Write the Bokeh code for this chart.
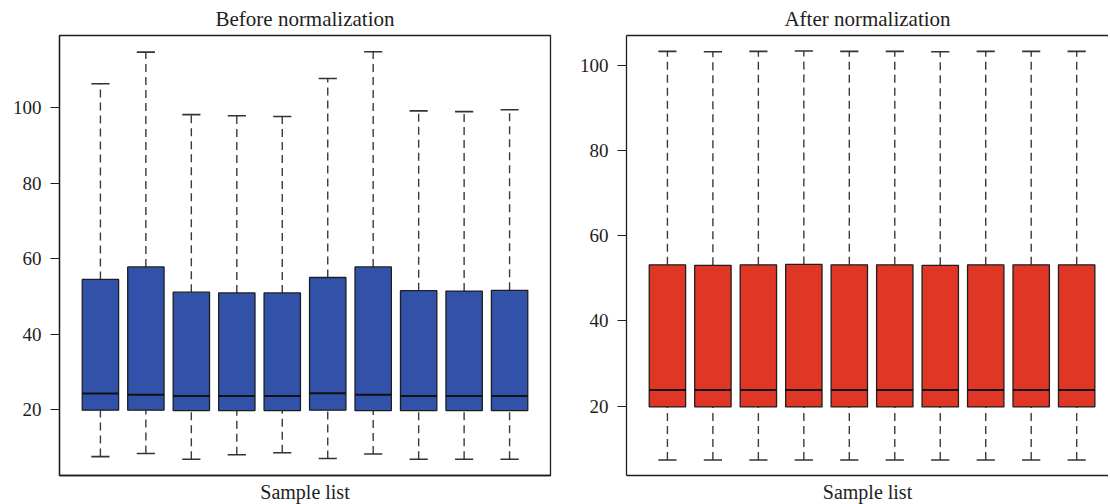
from bokeh.plotting import figure
from bokeh.layouts import row
from bokeh.models import ColumnDataSource, Range1d, FixedTicker, LinearAxis
from bokeh.transform import dodge
from bokeh.embed import file_html
from bokeh.resources import INLINE

# ---- data ----
samples = [1, 2, 3, 4, 5, 6, 7, 8, 9, 10]
y_ticks = [20, 40, 60, 80, 100]

before_upper = [106.4, 114.8, 98.2, 97.9, 97.7, 107.8, 114.9, 99.2, 99.0, 99.5]
before_q3 = [54.5, 57.8, 51.1, 50.9, 50.9, 55.0, 57.8, 51.5, 51.4, 51.6]
before_median = [24.2, 23.9, 23.6, 23.6, 23.6, 24.3, 23.9, 23.6, 23.6, 23.6]
before_q1 = [19.8, 19.8, 19.7, 19.7, 19.7, 19.8, 19.7, 19.7, 19.7, 19.7]
before_lower = [7.5, 8.3, 6.8, 8.0, 8.5, 7.0, 8.2, 6.8, 6.8, 6.8]

after_upper = [103.4, 103.3, 103.4, 103.5, 103.4, 103.4, 103.3, 103.4, 103.4, 103.4]
after_q3 = [53.2, 53.1, 53.2, 53.3, 53.2, 53.2, 53.1, 53.2, 53.2, 53.2]
after_median = [23.8, 23.8, 23.8, 23.8, 23.8, 23.8, 23.8, 23.8, 23.8, 23.8]
after_q1 = [19.8, 19.8, 19.8, 19.8, 19.8, 19.8, 19.8, 19.8, 19.8, 19.8]
after_lower = [7.3, 7.3, 7.3, 7.3, 7.3, 7.3, 7.3, 7.3, 7.3, 7.3]

FONT = "Liberation Serif"
INK = "#1e1e1e"


def bare_axis(ax):
    ax.ticker = FixedTicker(ticks=[])
    ax.major_tick_out = 0
    ax.major_tick_in = 0
    ax.minor_tick_out = 0
    ax.minor_tick_in = 0
    ax.major_label_standoff = 0
    ax.axis_line_color = INK
    ax.axis_line_width = 1.3


def make_panel(title, upper, q3, med, q1, lower, fill, y_lo, y_hi, x_hi,
               frame_w, border_left, border_right, outline):
    src = ColumnDataSource(dict(x=samples, upper=upper, q3=q3, med=med, q1=q1, lower=lower))
    p = figure(frame_width=frame_w, frame_height=440,
               x_range=Range1d(0.1, x_hi), y_range=Range1d(y_lo, y_hi),
               output_backend="svg", toolbar_location=None,
               min_border_left=border_left, min_border_right=border_right,
               min_border_top=0, min_border_bottom=0)
    p.grid.visible = False
    p.background_fill_color = "white"
    p.border_fill_color = "white"
    if outline:
        p.outline_line_color = INK
        p.outline_line_width = 1.3
    else:
        p.outline_line_color = None
        top = LinearAxis()
        bare_axis(top)
        p.add_layout(top, "above")

    # title
    p.title.text = title
    p.title.align = "center"
    p.title.text_font = FONT
    p.title.text_font_size = "21px"
    p.title.text_font_style = "normal"
    p.title.text_color = INK
    p.title.standoff = 9

    # x axis (below)
    xa = p.below[0]
    bare_axis(xa)
    xa.axis_label = "Sample list"
    xa.axis_label_text_font = FONT
    xa.axis_label_text_font_size = "20px"
    xa.axis_label_text_font_style = "normal"
    xa.axis_label_text_color = INK
    xa.axis_label_standoff = 5

    # y axis
    ya = p.left[0]
    ya.ticker = FixedTicker(ticks=y_ticks)
    ya.major_tick_out = 9
    ya.major_tick_in = 0
    ya.minor_tick_out = 0
    ya.minor_tick_in = 0
    ya.major_tick_line_color = INK
    ya.major_tick_line_width = 1.2
    ya.major_label_standoff = 9
    ya.major_label_text_font = FONT
    ya.major_label_text_font_size = "19px"
    ya.major_label_text_color = INK
    ya.axis_line_color = INK
    ya.axis_line_width = 1.3

    # whiskers (dashed)
    p.segment(x0="x", y0="q3", x1="x", y1="upper", source=src,
              line_color="#3a3a3a", line_width=1.4, line_dash="8 5")
    p.segment(x0="x", y0="lower", x1="x", y1="q1", source=src,
              line_color="#3a3a3a", line_width=1.4, line_dash="8 5")
    # caps
    p.segment(x0=dodge("x", -0.2, range=p.x_range), y0="upper",
              x1=dodge("x", 0.2, range=p.x_range), y1="upper", source=src,
              line_color="#333333", line_width=1.6)
    p.segment(x0=dodge("x", -0.2, range=p.x_range), y0="lower",
              x1=dodge("x", 0.2, range=p.x_range), y1="lower", source=src,
              line_color="#333333", line_width=1.6)
    # boxes
    p.vbar(x="x", bottom="q1", top="q3", width=0.8, source=src,
           fill_color=fill, line_color=INK, line_width=1.3)
    # medians
    p.segment(x0=dodge("x", -0.4, range=p.x_range), y0="med",
              x1=dodge("x", 0.4, range=p.x_range), y1="med", source=src,
              line_color="#111111", line_width=2)
    return p


p1 = make_panel("Before normalization", before_upper, before_q3, before_median,
                before_q1, before_lower, "#3152a8", 2.48, 119.2, 10.9, 491, 59, 25, True)
p2 = make_panel("After normalization", after_upper, after_q3, after_median,
                after_q1, after_lower, "#e03626", 3.67, 107.13, 10.70, 482, 51, 0, False)

layout = row(p1, p2)
open("out.html", "w").write(file_html(layout, INLINE))
